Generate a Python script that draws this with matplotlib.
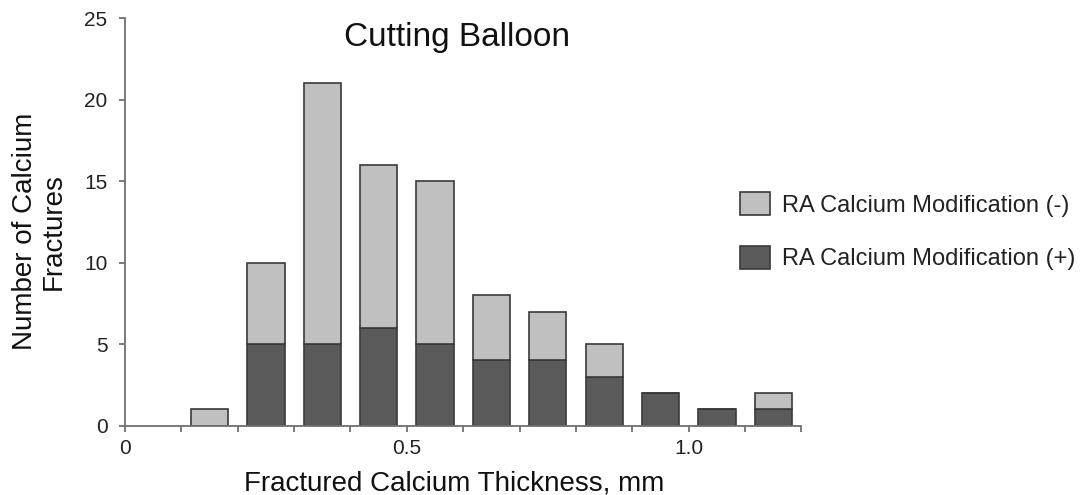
import numpy as np
from matplotlib import pyplot as plt

# bins of fractured calcium thickness (mm), left edges
bin_left = [0.1, 0.2, 0.3, 0.4, 0.5, 0.6, 0.7, 0.8, 0.9, 1.0, 1.1]
# counts per bin
ra_plus = [0, 5, 5, 6, 5, 4, 4, 3, 2, 1, 1]
ra_minus = [1, 5, 16, 10, 10, 4, 3, 2, 0, 0, 1]

x_ticks = [0.0, 0.1, 0.2, 0.3, 0.4, 0.5, 0.6, 0.7, 0.8, 0.9, 1.0, 1.1, 1.2]
x_labels = ["0", "", "", "", "", "0.5", "", "", "", "", "1.0", "", ""]
y_ticks = [0, 5, 10, 15, 20, 25]

LIGHT = "#c0c0c0"
DARK = "#5a5a5a"
EDGE = "#3a3a3a"


def main():
    plt.rcParams['font.family'] = ['Liberation Sans', 'DejaVu Sans']
    fig = plt.figure(figsize=(10.8, 4.95), dpi=100)
    ax = fig.add_axes([0.1157, 0.140, 0.7421 - 0.1157, 0.9636 - 0.140])

    centers = np.array(bin_left) + 0.05
    w = 0.066
    ax.bar(centers, ra_plus, width=w, color=DARK, edgecolor=EDGE,
           linewidth=1.2, label="RA Calcium Modification (+)")
    ax.bar(centers, ra_minus, width=w, bottom=ra_plus, color=LIGHT,
           edgecolor=EDGE, linewidth=1.2, label="RA Calcium Modification (-)")

    ax.set_xlim(0, 1.2)
    ax.set_ylim(0, 25)
    ax.set_xticks(x_ticks)
    ax.set_xticklabels(x_labels)
    ax.set_yticks(y_ticks)

    for s in ["top", "right"]:
        ax.spines[s].set_visible(False)
    for s in ["left", "bottom"]:
        ax.spines[s].set_color("#707070")
        ax.spines[s].set_linewidth(1.3)
    ax.tick_params(axis="both", length=4.5, width=1.3, color="#707070",
                   labelsize=15, labelcolor="#222222")
    ax.tick_params(axis="y", pad=8)
    ax.tick_params(axis="x", pad=5)

    ax.text(0.589, 23.3, "Cutting Balloon", fontsize=24, ha="center",
            va="baseline", color="#111111")

    fig.text(0.421, 1 - 491 / 495, "Fractured Calcium Thickness, mm",
             fontsize=20, ha="center", va="baseline", color="#111111")
    fig.text(0.0366, 0.533, "Number of Calcium\nFractures", fontsize=20,
             ha="center", va="center", rotation=90, color="#111111",
             linespacing=1.15)

    h, l = ax.get_legend_handles_labels()
    fig.legend(h[::-1], l[::-1], loc="upper left",
               bbox_to_anchor=(740 / 1080, 1 - 192 / 495), frameon=False,
               fontsize=17, handlelength=1.27, handleheight=1.14,
               labelspacing=1.23, handletextpad=0.5, borderpad=0,
               borderaxespad=0, labelcolor="#222222")

    plt.savefig("out.png", dpi=100)


if __name__ == "__main__":
    main()
